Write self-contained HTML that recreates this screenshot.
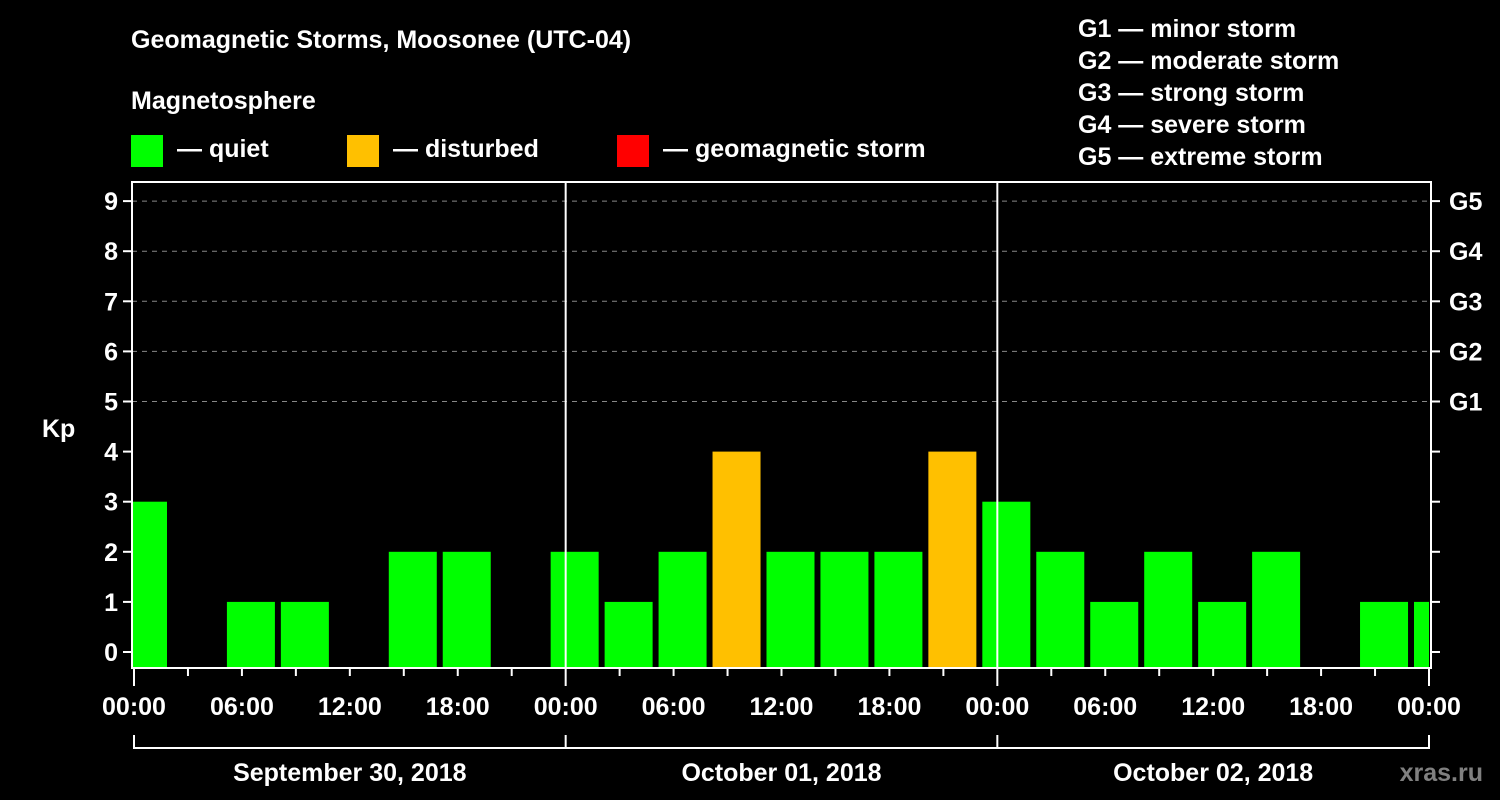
<!DOCTYPE html>
<html><head><meta charset="utf-8"><style>
html,body{margin:0;background:#000;}
svg{display:block;font-family:"Liberation Sans",Arial,sans-serif;font-weight:bold;}
</style></head><body>
<svg width="1500" height="800" viewBox="0 0 1500 800">
<rect width="1500" height="800" fill="#000"/>
<g fill="#fff" font-size="25">
<text x="131" y="48">Geomagnetic Storms, Moosonee (UTC-04)</text>
<text x="131" y="109">Magnetosphere</text>
<rect x="131" y="135" width="32" height="32" fill="#00ff00"/>
<text x="177" y="157">— quiet</text>
<rect x="347" y="135" width="32" height="32" fill="#ffc000"/>
<text x="393" y="157">— disturbed</text>
<rect x="617" y="135" width="32" height="32" fill="#ff0000"/>
<text x="663" y="157">— geomagnetic storm</text>
<text x="1078" y="37">G1 — minor storm</text>
<text x="1078" y="69">G2 — moderate storm</text>
<text x="1078" y="101">G3 — strong storm</text>
<text x="1078" y="133">G4 — severe storm</text>
<text x="1078" y="165">G5 — extreme storm</text>
<text x="42" y="437">Kp</text>
</g>
<g id="plot"></g>
<text x="1483" y="781" fill="#808080" font-size="25" text-anchor="end">xras.ru</text>
</svg>
<script>
const kpValues=[3,0,1,1,0,2,2,0,2,1,2,4,2,2,2,4,3,2,1,2,1,2,0,1,1];
const yTicks=[0,1,2,3,4,5,6,7,8,9];
const gLabels=["G1","G2","G3","G4","G5"];
const xLabels=["00:00","06:00","12:00","18:00","00:00","06:00","12:00","18:00","00:00","06:00","12:00","18:00","00:00"];
const dateLabels=["September 30, 2018","October 01, 2018","October 02, 2018"];
const NS="http://www.w3.org/2000/svg";
const g=document.getElementById('plot');
const L=132,R=1431,T=182,B=668;
const x=h=>134+h*(1429-134)/72;
const y=v=>652-v*50.1;
function el(t,a,p){const e=document.createElementNS(NS,t);for(const k in a)e.setAttribute(k,a[k]);(p||g).appendChild(e);return e;}
// grid
yTicks.forEach(v=>{if(v>=5){const l=el('line',{x1:L,x2:R,y1:y(v),y2:y(v),stroke:'#888','stroke-dasharray':'5,5','stroke-width':1});

}});
// bars
const clip=el('clipPath',{id:'pc'});el('rect',{x:L+1,y:T,width:R-L-3,height:B-T},clip);
const bg=el('g',{'clip-path':'url(#pc)'});
kpValues.forEach((v,i)=>{if(v<=0)return;const c=x(0.5+3*i);
const col=v>=5?'#ff0000':(v>=4?'#ffc000':'#00ff00');
const r=el('rect',{x:c-24,y:y(v),width:48,height:B-y(v),fill:col},bg);

});
// day separators
[24,48].forEach(h=>{const l=el('line',{x1:x(h),x2:x(h),y1:T,y2:B,stroke:'#fff','stroke-width':2});

});
// frame
const f=el('rect',{x:L,y:T,width:R-L,height:B-T,fill:'none',stroke:'#fff','stroke-width':2});


// y ticks
yTicks.forEach(v=>{el('line',{x1:L-9,x2:L,y1:y(v),y2:y(v),stroke:'#fff','stroke-width':2});
el('line',{x1:R,x2:R+9,y1:y(v),y2:y(v),stroke:'#fff','stroke-width':2});
const t=el('text',{x:118,y:y(v)+9,fill:'#fff','font-size':25,'text-anchor':'end'});t.textContent=v;

});
gLabels.forEach((s,i)=>{const t=el('text',{x:1449,y:y(5+i)+9,fill:'#fff','font-size':25});t.textContent=s;

});
// x ticks
for(let h=0;h<=72;h+=3){el('line',{x1:x(h),x2:x(h),y1:B,y2:B+(h%24===0?18:8),stroke:'#fff','stroke-width':2});}
xLabels.forEach((s,i)=>{const t=el('text',{x:x(i*6),y:715,fill:'#fff','font-size':25,'text-anchor':'middle'});t.textContent=s;

});
// date bracket
el('line',{x1:x(0),x2:x(72),y1:748,y2:748,stroke:'#fff','stroke-width':2});
[0,24,48,72].forEach(h=>el('line',{x1:x(h),x2:x(h),y1:735,y2:749,stroke:'#fff','stroke-width':2}));
dateLabels.forEach((s,i)=>{const t=el('text',{x:x(12+24*i),y:781,fill:'#fff','font-size':25,'text-anchor':'middle'});t.textContent=s;

});
</script>
</body></html>
